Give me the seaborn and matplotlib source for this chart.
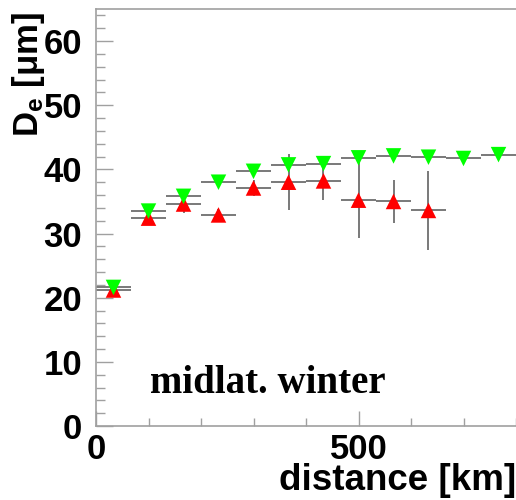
import matplotlib
matplotlib.use("Agg")
import matplotlib.pyplot as plt
import seaborn as sns
import numpy as np
import pandas as pd
from matplotlib.ticker import MultipleLocator

sns.set_theme(style="white")
plt.rcParams['font.family'] = ['Liberation Sans', 'DejaVu Sans']
plt.rcParams['mathtext.fontset'] = 'custom'
plt.rcParams['mathtext.bf'] = 'Liberation Sans:bold'
plt.rcParams['mathtext.rm'] = 'Liberation Sans:bold'
plt.rcParams['text.color'] = 'black'
plt.rcParams['xtick.labelcolor'] = 'black'
plt.rcParams['ytick.labelcolor'] = 'black'

# data
dist_green = [33.3, 100, 166.7, 233.3, 300, 366.7, 433.3, 500, 566.7, 633.3, 700, 766.7]
de_green = [21.6, 33.5, 35.8, 38.0, 39.7, 40.7, 40.9, 41.8, 42.1, 41.9, 41.7, 42.3]
err_green = [0.3, 0.5, 0.5, 0.5, 0.5, 0.5, 0.5, 0.5, 0.5, 0.5, 0.5, 0.5]
dist_red = [33.3, 100, 166.7, 233.3, 300, 366.7, 433.3, 500, 566.7, 633.3]
de_red = [21.2, 32.4, 34.6, 32.9, 37.1, 38.0, 38.2, 35.2, 35.0, 33.6]
err_red = [0.5, 0.8, 1.4, 1.0, 1.3, 4.4, 3.0, 5.9, 3.3, 6.1]
bin_half = 33.3

df_g = pd.DataFrame({"distance": dist_green, "De": de_green})
df_r = pd.DataFrame({"distance": dist_red, "De": de_red})

fig = plt.figure(figsize=(5.16, 5.0), dpi=100)
ax = fig.add_axes([96/516, 74/500, 420/516, 417/500])

gray = "#6e6e6e"
ax.errorbar(dist_green, de_green, xerr=bin_half, yerr=err_green, fmt="none",
            ecolor=gray, elinewidth=1.3, capsize=0, zorder=2)
ax.errorbar(dist_red, de_red, xerr=bin_half, yerr=err_red, fmt="none",
            ecolor=gray, elinewidth=1.3, capsize=0, zorder=2)
sns.scatterplot(data=df_r, x="distance", y="De", marker="^", s=125,
                color="#ff0000", edgecolor="none", ax=ax, zorder=3)
sns.scatterplot(data=df_g, x="distance", y="De", marker="v", s=125,
                color="#00ff00", edgecolor="none", ax=ax, zorder=4)

ax.set_xlim(0, 800)
ax.set_ylim(0, 65)
ax.set_xlabel("")
ax.set_ylabel("")
ax.xaxis.set_major_locator(MultipleLocator(500))
ax.xaxis.set_minor_locator(MultipleLocator(100))
ax.yaxis.set_major_locator(MultipleLocator(10))
ax.yaxis.set_minor_locator(MultipleLocator(2))
ax.tick_params(axis="both", which="both", direction="in", color="#a0a0a0", width=1.0)
ax.tick_params(axis="y", which="major", length=12, pad=10, labelsize=25)
ax.tick_params(axis="y", which="minor", length=6.5)
ax.tick_params(axis="x", which="major", length=11, pad=5, labelsize=25)
ax.tick_params(axis="x", which="minor", length=5.8)
ax.tick_params(left=True, bottom=True, which="both")
for lab in ax.get_xticklabels() + ax.get_yticklabels():
    lab.set_fontweight("bold")
    lab.set_color("black")

for s in ["left", "top", "bottom"]:
    ax.spines[s].set_color("#a0a0a0")
    ax.spines[s].set_linewidth(1.2)
ax.spines["right"].set_visible(False)

ax.text(102, (426-393)/6.42, "midlat. winter", family=["Liberation Serif"],
        fontweight="bold", fontsize=28, ha="left", va="baseline", color="black")

fig.text(1.0, (500-490)/500, "distance [km]", ha="right", va="baseline", fontsize=26.5,
         fontweight="bold", color="black")
fig.text(10/516, 1 - 12/500, r"$\mathbf{D_e}$ [μm]", rotation=90, ha="left", va="top",
         fontsize=25, fontweight="bold", color="black")

fig.savefig("out.png", dpi=100)
